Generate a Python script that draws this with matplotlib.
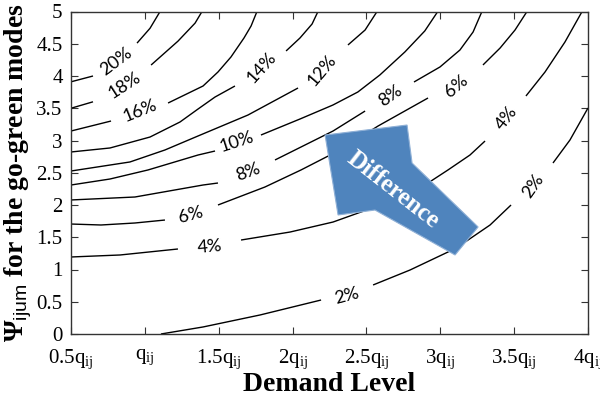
import numpy as np
import matplotlib
matplotlib.use('Agg')
import matplotlib.pyplot as plt
from matplotlib.patches import Polygon

nan = np.nan

# ---- contour lines (NaN = gap where a label sits) ----
c20_x = [0.5, 0.649, nan, 0.947, 1.035, 1.103]
c20_y = [3.91, 4.00, nan, 4.51, 4.74, 5.0]

c18_x = [0.5, 0.649, nan, 1.042, 1.224, 1.340, 1.387]
c18_y = [3.50, 3.60, nan, 4.17, 4.54, 4.82, 5.0]

c16_x = [0.5, 0.771, nan, 1.157, 1.394, 1.495, 1.583, 1.671, 1.719, 1.759]
c16_y = [3.147, 3.302, nan, 3.581, 3.845, 4.062, 4.295, 4.589, 4.775, 5.0]

c14_x = [0.5, 0.764, 1.035, 1.238, 1.360, 1.475, 1.610, nan, 1.956, 2.050, 2.132, 2.172]
c14_y = [2.822, 2.884, 3.054, 3.287, 3.488, 3.674, 3.845, nan, 4.388, 4.589, 4.806, 5.0]

c12_x = [0.5, 0.899, 1.136, 1.360, 1.698, 2.037, nan, 2.375, 2.491, 2.572]
c12_y = [2.527, 2.667, 2.853, 3.070, 3.395, 3.814, nan, 4.481, 4.713, 5.0]

c10_x = [0.5, 0.764, 1.021, 1.360, 1.475, nan, 1.786, 2.050, 2.273, 2.442, 2.591, 2.760, 2.895, 2.983]
c10_y = [2.310, 2.403, 2.543, 2.775, 2.837, nan, 3.085, 3.333, 3.550, 3.752, 4.016, 4.372, 4.698, 5.0]

c08_x = [0.5, 0.933, 1.394, 1.495, nan, 1.881, 2.274, 2.491, nan, 2.822, 2.998, 3.133, 3.222, 3.282]
c08_y = [2.078, 2.124, 2.310, 2.341, nan, 2.698, 3.147, 3.457, nan, 3.907, 4.140, 4.403, 4.682, 5.0]

c06_x = [0.5, 0.703, 0.933, 1.136, nan, 1.495, 1.813, 2.057, 2.321, 2.579, 2.917, nan, 3.289, 3.405, 3.506, 3.587]
c06_y = [1.705, 1.690, 1.721, 1.767, nan, 2.000, 2.279, 2.543, 2.853, 3.225, 3.659, nan, 4.171, 4.434, 4.713, 5.0]

c04_x = [0.5, 0.832, 1.224, nan, 1.651, 1.983, 2.274, 2.558, 2.761, 2.917, 3.052, 3.201, 3.303, nan, 3.580, 3.709, 3.844, 3.960]
c04_y = [1.194, 1.225, 1.318, nan, 1.457, 1.581, 1.736, 1.969, 2.155, 2.341, 2.543, 2.775, 2.992, nan, 3.690, 4.062, 4.527, 5.0]

c02_x = [1.109, 1.394, 1.780, 2.193, nan, 2.545, 2.795, 3.052, 3.168, 3.337, 3.479, nan, 3.763, 3.878, 4.0]
c02_y = [0.0, 0.109, 0.295, 0.527, nan, 0.760, 0.992, 1.271, 1.426, 1.690, 2.0, nan, 2.651, 3.008, 3.504]

contours = [(c20_x, c20_y), (c18_x, c18_y), (c16_x, c16_y), (c14_x, c14_y),
            (c12_x, c12_y), (c10_x, c10_y), (c08_x, c08_y), (c06_x, c06_y),
            (c04_x, c04_y), (c02_x, c02_y)]

# ---- contour labels ----
lab_text = ['20%', '18%', '16%', '14%', '12%', '10%', '8%', '8%', '6%', '6%', '4%', '4%', '2%', '2%']
lab_x = [0.805, 0.859, 0.967, 1.793, 2.199, 1.624, 1.698, 2.660, 1.312, 3.107, 1.441, 3.445, 2.369, 3.628]
lab_y = [4.22, 3.86, 3.457, 4.124, 4.093, 2.977, 2.512, 3.690, 1.845, 3.845, 1.349, 3.349, 0.589, 2.295]
lab_rot = [37, 33, 22, 48, 50, 18, 20, 35, 15, 40, 5, 52, 15, 55]

# ---- axes ticks ----
x_ticks = [0.5, 1.0, 1.5, 2.0, 2.5, 3.0, 3.5, 4.0]
x_ticklabels = [r'0.5q$_{\rm ij}$', r'q$_{\rm ij}$', r'1.5q$_{\rm ij}$', r'2q$_{\rm ij}$',
                r'2.5q$_{\rm ij}$', r'3q$_{\rm ij}$', r'3.5q$_{\rm ij}$', r'4q$_{\rm ij}$']
y_ticks = [0, 0.5, 1, 1.5, 2, 2.5, 3, 3.5, 4, 4.5, 5]
y_ticklabels = ['0', '0.5', '1', '1.5', '2', '2.5', '3', '3.5', '4', '4.5', '5']

# ---- arrow annotation outline ----
arrow_x = [2.220, 2.775, 2.809, 3.256, 3.100, 2.558, 2.308]
arrow_y = [3.085, 3.240, 2.651, 1.659, 1.225, 1.922, 1.845]

plt.rcParams['mathtext.fontset'] = 'custom'
plt.rcParams['mathtext.rm'] = 'Liberation Serif'
plt.rcParams['mathtext.bf'] = 'Liberation Serif:bold'
plt.rcParams['mathtext.sf'] = 'Liberation Sans'

fig = plt.figure(figsize=(6, 4), dpi=100)
ax = fig.add_axes([71 / 600, 1 - 334 / 400, 517 / 600, 322.5 / 400])

for xs, ys in contours:
    ax.plot(xs, ys, color='black', lw=1.0, solid_capstyle='butt',
            solid_joinstyle='round')

for t, x, y, r in zip(lab_text, lab_x, lab_y, lab_rot):
    ax.text(x, y, t, rotation=r, ha='center', va='center', fontsize=13,
            family='Lato', rotation_mode='anchor')

ax.add_patch(Polygon(list(zip(arrow_x, arrow_y)), closed=True,
                     facecolor='#4f84bd', edgecolor='#8fb0d6', linewidth=0.8,
                     zorder=5))
ax.text(2.68, 2.233, 'Difference', rotation=-38, ha='center', va='center',
        rotation_mode='anchor', color='white', fontsize=18, fontweight='bold',
        family='Liberation Serif', zorder=6)

ax.set_xlim(0.5, 4)
ax.set_ylim(0, 5)
ax.set_xticks(x_ticks)
ax.set_xticklabels(x_ticklabels, family='Liberation Serif', fontsize=15)
ax.set_yticks(y_ticks)
ax.set_yticklabels(y_ticklabels, family='Liberation Serif', fontsize=15)
ax.tick_params(direction='in', top=True, right=True, length=5, width=0.8, color='#333333')
ax.tick_params(axis='x', pad=10)
ax.tick_params(axis='y', pad=6)
for s in ax.spines.values():
    s.set_color('#333333')
    s.set_linewidth(1.0)

ax.set_xlabel('Demand Level', family='Liberation Serif', fontsize=20,
              fontweight='bold', labelpad=0)
ax.set_ylabel(r'$\mathbf{\Psi}_{\mathsf{ijum}}$ for the go-green modes',
              family='Liberation Serif', fontsize=20, fontweight='bold', labelpad=2)

fig.savefig('out.png', dpi=100)
